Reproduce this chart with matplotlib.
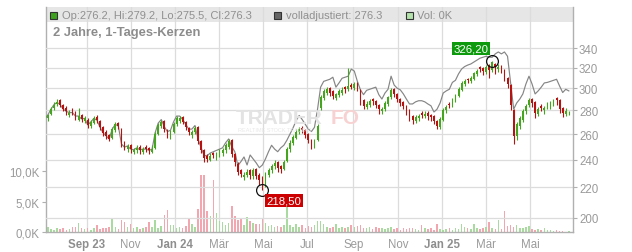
import numpy as np
import pandas as pd
import matplotlib
matplotlib.use("Agg")
import matplotlib.pyplot as plt
from matplotlib.patches import Rectangle

plt.rcParams['font.family'] = ['Liberation Sans', 'DejaVu Sans']

# ---------------- data (3-trading-day candles) ----------------
first_date = '2023-07-06'
last_date = '2025-06-26'

closes = [272.5, 276, 281, 285, 287, 285, 281, 279, 278, 278,
          275, 275, 272.5, 273, 267.5, 270, 273, 271.5, 265.5, 261,
          258.5, 256, 264, 268, 266.5, 252, 249.5, 250.5, 248, 247.5,
          249, 247.5, 248, 248, 247, 248, 260, 267.5, 270, 264,
          259.5, 261, 268, 273, 273, 270, 265.5, 261.5, 261.5, 265,
          254, 247, 241, 240.5, 243, 243.5, 244.3, 246, 247, 251,
          254, 244, 238, 231, 229.5, 229, 231, 229, 232, 228,
          225, 221, 230, 232.5, 235, 237.5, 234, 233, 238.5, 248,
          253, 257.5, 262, 264, 263, 259.5, 255, 251, 254.5, 266.5,
          292, 297.5, 299, 296, 293, 294.5, 297.5, 298.5, 299, 302,
          301, 304, 299, 288, 283.5, 285.6, 288, 288, 285, 281,
          281, 286.5, 291.5, 298.5, 294.7, 290, 286.5, 284, 279.5, 274,
          271.5, 274, 275, 276, 277, 275, 274, 271, 267, 272.5,
          280, 283, 284.5, 289, 293.5, 299, 305, 306.5, 307.5, 309.5,
          314.5, 316.5, 318.5, 316.5, 321, 317.5, 325.5, 321, 321, 318.5,
          309.5, 304, 284.5, 258, 268, 273, 279, 284, 289, 286.5,
          278, 281, 282, 282, 284, 285.6, 288, 289, 281, 278,
          279.5, 276.3]

opens = [270, 273, 277, 282, 286, 289, 285, 282, 276, 280,
         278, 272, 276, 271, 272, 267, 269, 274, 271, 266,
         262, 259, 257, 263, 269, 264, 253, 248, 251, 246,
         247, 250, 246, 250, 249, 246, 249, 260, 267, 271,
         263, 258, 262, 268, 271, 274, 270, 265, 259, 262,
         266, 254, 247, 243, 240, 245, 242, 244, 245, 247,
         250, 255, 244, 237, 232, 227, 229, 232, 228, 233,
         229, 227, 222, 229, 232, 235, 238, 235, 233, 239,
         248, 253, 257, 262, 265, 263, 260, 255, 250, 255,
         282, 291, 296, 300, 297, 291, 294, 296, 301, 299,
         303, 300, 305, 298, 289, 283, 285, 290, 288, 285,
         279, 281, 286, 292, 299, 295, 290, 287, 284, 280,
         275, 271, 273, 278, 275, 278, 276, 275, 271, 266,
         272, 280, 286, 284, 289, 293, 298, 304, 309, 307,
         309, 314, 321, 320, 316, 323, 318, 324, 319, 322,
         318, 310, 303, 280, 258, 267, 272, 279, 285, 290,
         287, 277, 284, 280, 283, 283, 286, 291, 289, 282,
         277, 276.2]

highs = [274, 277, 283, 287, 290, 290, 286, 284, 280, 282,
         279, 282, 277, 275, 273, 272, 275, 276, 272, 267,
         263, 260, 266, 270, 270, 265, 254, 252, 252, 249,
         251, 251, 250, 251, 250, 251, 262, 269, 272, 272,
         264, 263, 270, 275, 275, 275, 271, 266, 263, 267,
         267, 255, 248, 244, 245, 246, 246, 248, 249, 253,
         256, 256, 245, 238, 233, 231, 233, 233, 234, 234,
         230, 228, 231, 234, 237, 240, 239, 236, 240, 250,
         255, 259, 264, 266, 267, 264, 261, 256, 256, 268,
         294, 299, 301, 301, 298, 296, 299, 301, 302, 320,
         305, 306, 306, 299, 290, 288, 290, 291, 289, 286,
         283, 288, 293, 300, 300, 296, 291, 288, 285, 281,
         276, 276, 277, 279, 279, 279, 277, 276, 272, 274,
         282, 285, 287, 291, 295, 301, 307, 309, 310, 312,
         316, 319, 322, 321, 323, 324, 326.2, 325, 324, 323,
         319, 311, 304, 281, 270, 275, 281, 286, 291, 291,
         288, 283, 286, 284, 287, 288, 290, 292, 290, 283,
         282, 279.2]

lows = [268, 271, 276, 280, 284, 283, 279, 276, 274, 276,
        272, 271, 270, 269, 265, 265, 268, 269, 263, 258,
        256, 254, 256, 262, 264, 250, 247, 246, 245, 244,
        245, 244, 244, 246, 244, 245, 248, 259, 265, 262,
        257, 256, 261, 267, 269, 268, 263, 259, 257, 260,
        252, 245, 238, 238, 239, 241, 240, 242, 243, 245,
        248, 242, 235, 229, 227, 225, 227, 226, 226, 226,
        222, 218.5, 220, 227, 230, 233, 231, 230, 232, 238,
        246, 251, 256, 260, 261, 257, 253, 248, 249, 254,
        280, 289, 294, 293, 290, 289, 292, 294, 296, 297,
        299, 298, 297, 285, 281, 281, 283, 285, 282, 277,
        277, 279, 284, 290, 292, 287, 284, 281, 276, 271,
        268, 269, 271, 273, 273, 272, 271, 268, 264, 264,
        271, 278, 282, 283, 287, 292, 297, 302, 305, 305,
        308, 312, 316, 313, 314, 310, 316, 314, 316, 315,
        307, 300, 280, 252, 255, 264, 270, 277, 283, 283,
        273, 275, 279, 277, 281, 281, 284, 285, 278, 274,
        275, 275.5]

adjusted = [272.5, 276, 281, 285, 287, 285, 281, 279, 278, 278, 275, 275, 272.5, 273,
            267.5, 270, 273, 271.5, 265.5, 261, 258.5, 256, 264, 268, 266.5, 252,
            249.5, 250.5, 248, 247.5, 249, 247.5, 248, 248, 247, 248,
            261, 269, 272, 266, 262, 263, 270, 275, 275, 272, 268, 264, 264, 267, 256,
            249, 243, 243, 245, 246, 247, 248, 249, 253, 256, 250, 246,
            235.5, 238.5, 242, 236, 243.5, 240.5, 237.5, 234, 236, 240.5,
            246, 251, 248, 246, 249, 251, 255, 260, 265, 271,
            275.5, 272, 268, 264, 262, 265.5, 281, 301, 306.5, 307.5,
            308.5, 310.5, 301, 305, 309.5, 310.5, 311.5, 318.5, 316.5, 306.5,
            298.5, 294, 298, 299, 300, 301, 294, 290, 295.5, 299,
            311.5, 303, 300, 298.5, 294.7, 290, 285.6, 285.6, 287.5, 288.5,
            288.5, 287.5, 285.6, 284, 278.5, 281, 286.5, 295.5, 297.5, 299,
            305.5, 307.5, 313.7, 318.5, 321, 322.5, 323.6, 325.5, 327.5, 329.5,
            330.5, 331.5, 330.5, 330.5, 334, 336, 334, 336, 331.5, 305,
            281, 286.5, 290, 294.7, 304, 311.5, 304, 294.7, 297.5, 301,
            305, 305.5, 306.5, 307.5, 308.5, 302, 296, 299, 297.5]

volumes_k = [0.6, 0.9, 0.5, 0.4, 0.7, 0.5, 0.6, 0.4, 0.5, 0.8,
             0.9, 1.5, 0.6, 0.5, 0.7, 0.4, 0.6, 1.1, 0.5, 0.7,
             0.6, 0.9, 2.1, 0.8, 0.5, 2.0, 1.6, 0.9, 1.3, 0.6,
             0.8, 0.5, 0.7, 0.9, 1.7, 0.8, 1.9, 0.6, 1.0, 2.8,
             3.6, 1.2, 1.2, 0.7, 0.9, 0.6, 1.0, 2.2, 1.4, 0.9,
             3.8, 9.4, 9.4, 3.5, 2.7, 8.6, 3.1, 1.8, 1.6, 1.2,
             1.5, 4.3, 2.7, 2.0, 2.2, 1.2, 2.5, 1.8, 1.5, 1.3,
             1.4, 2.3, 1.5, 1.0, 1.2, 0.9, 1.0, 0.8, 1.1, 5.0,
             1.2, 0.9, 1.4, 0.8, 1.1, 0.7, 1.0, 0.8, 1.2, 1.8,
             1.8, 1.3, 0.9, 0.7, 0.8, 1.3, 0.6, 0.9, 0.7, 0.8,
             1.2, 0.8, 1.0, 1.1, 0.7, 0.6, 0.9, 0.5, 0.8, 0.6,
             0.7, 0.5, 0.6, 0.8, 0.5, 0.6, 0.4, 0.7, 0.5, 0.6,
             0.6, 0.5, 0.4, 1.2, 0.6, 0.5, 0.7, 0.4, 1.3, 0.5,
             0.4, 0.5, 0.6, 0.4, 0.7, 0.5, 1.3, 0.9, 0.6, 0.5,
             1.3, 0.7, 0.5, 0.6, 0.8, 1.7, 0.6, 0.5, 2.0, 0.5,
             3.4, 1.0, 1.1, 0.9, 1.2, 0.7, 0.6, 0.8, 1.0, 0.5,
             0.4, 0.5, 0.3, 0.7, 0.4, 0.3, 0.2, 0.3, 0.1, 0.2, 0.0, 0.1]

tick_months = ['2023-09', '2023-11', '2024-01', '2024-03', '2024-05', '2024-07',
               '2024-09', '2024-11', '2025-01', '2025-03', '2025-05']
tick_labels = ['Sep 23', 'Nov', 'Jan 24', 'Mär', 'Mai', 'Jul',
               'Sep', 'Nov', 'Jan 25', 'Mär', 'Mai']
bold_labels = ['Sep 23', 'Jan 24', 'Jan 25']

price_ticks = [200, 220, 240, 260, 280, 300, 320, 340]
vol_ticks = [0, 5, 10]
vol_tick_labels = ['0,0K', '5,0K', '10,0K']

high_point = ('2025-03-11', 326.20, '326,20')
low_point = ('2024-04-30', 218.50, '218,50')

legend_ohlc = 'Op:276.2, Hi:279.2, Lo:275.5, Cl:276.3'
legend_adj = 'volladjustiert: 276.3'
legend_vol = 'Vol: 0K'
subtitle = '2 Jahre, 1-Tages-Kerzen'

# ---------------- styling ----------------
C_UP = '#45a51f'
C_DN = '#b51212'
C_VUP = '#a9dba0'
C_VDN = '#f2a6b0'
C_GRID = '#dcdcdc'
C_TXT = '#9a9a9a'

W, H = 632, 253
fig = plt.figure(figsize=(W / 100, H / 100), dpi=100)
L, R, T, B = 45.7, 572.7, 8.0, 233.0
ax = fig.add_axes([L / W, 1 - B / H, (R - L) / W, (B - T) / H])
ax2 = ax.twinx()

start = np.datetime64(first_date)


def to_x(d):
    return np.busday_count(start, np.array(d, dtype='datetime64[D]'))


dates = pd.bdate_range(first_date, last_date, freq='3B')
n = min(len(dates), len(closes))
x = to_x(dates.values.astype('datetime64[D]'))[:n]
o = np.array(opens[:n], float)
c = np.array(closes[:n], float)
up = c >= o
cols = np.where(up, C_UP, C_DN)

# volume (left axis)
ax.bar(x, volumes_k[:n], width=1.5, color=np.where(up, C_VUP, C_VDN), linewidth=0, zorder=2)
ax.set_ylim(0, 37.07)
ax.set_yticks(vol_ticks)
ax.set_yticklabels(vol_tick_labels)

# x axis
tick_x = [int(to_x(np.busday_offset(m + '-01', 0, roll='forward'))) for m in tick_months]
ax.set_xticks(tick_x)
ax.set_xticklabels(tick_labels)
ax.set_xlim(0.86, 516.8)
ax.grid(axis='x', color=C_GRID, lw=0.9)
ax.set_axisbelow(True)

# legend bar background
ax.add_patch(Rectangle((0, (B - 22.7) / (B - T)), 1, 1 - (B - 22.7) / (B - T),
                       transform=ax.transAxes, facecolor='#e6e6e6', edgecolor='none', zorder=0.1))

# price (right axis, log)
ax2.set_yscale('log')
ax2.set_ylim(191.4, 386.7)
ax2.plot(x, adjusted[:n], color='#858585', lw=0.85, zorder=2)
ax2.vlines(x, lows[:n], highs[:n], colors=cols, lw=0.8, zorder=3)
ax2.bar(x, np.abs(c - o), bottom=np.minimum(o, c), width=1.7,
        color=cols, linewidth=0, zorder=3)
ax2.set_yticks(price_ticks)
ax2.set_yticklabels([str(p) for p in price_ticks])
ax2.yaxis.set_minor_locator(matplotlib.ticker.NullLocator())
ax2.grid(axis='y', color=C_GRID, lw=0.9)
ax2.set_axisbelow(True)

# extremes
for (d, v, txt), fc, off in [(high_point, '#0d9a0d', (-15.5, 9.5)),
                             (low_point, '#cc0000', (15.5, -8.0))]:
    xv = int(to_x(d))
    ax2.plot([xv], [v], marker='o', ms=8.5, mfc='none', mec='#111111', mew=0.9, zorder=5)
    ax2.annotate(txt, xy=(xv, v), xytext=off, textcoords='offset points',
                 ha='center', va='center', color='white', fontsize=8.2, zorder=6,
                 bbox=dict(boxstyle='square,pad=0.12', fc=fc, ec='none'))

# spines / ticks
for a in (ax, ax2):
    for s in a.spines.values():
        s.set_visible(False)
ax.spines['left'].set_visible(True)
ax.spines['bottom'].set_visible(True)
ax2.spines['right'].set_visible(True)
for s in (ax.spines['left'], ax.spines['bottom'], ax2.spines['right']):
    s.set_color('#b0b0b0')
    s.set_linewidth(1.0)
ax.tick_params(axis='x', length=0, pad=4, labelsize=8.3, colors=C_TXT)
ax.tick_params(axis='y', length=3, width=0.8, color='#b0b0b0', pad=1.5, labelsize=8.3, labelcolor=C_TXT)
ax2.tick_params(axis='y', length=3, width=0.8, color='#b0b0b0', pad=1.5, labelsize=8.3, labelcolor=C_TXT)
for lab in ax.get_xticklabels():
    if lab.get_text() in bold_labels:
        lab.set_fontweight('bold')
        lab.set_color('#8e8e8e')


def fx(px):
    return px / W


def fy(py):
    return 1 - py / H


# watermark
fig.text(fx(236), fy(119), 'TRADER', fontsize=15, fontweight='bold', color='#e3e3e3',
         ha='left', va='center', zorder=0)
fig.text(fx(331), fy(119), 'FO', fontsize=15, fontweight='bold', color='#f8d2d2',
         ha='left', va='center', zorder=0)
fig.text(fx(238), fy(130), 'REALTIME STOCK TRADING', fontsize=4, color='#e8e8e8',
         ha='left', va='center', zorder=0)

# legend row
for sx, col, txt in [(50, '#3ea21e', legend_ohlc), (274, '#666666', legend_adj), (405.7, '#b3e2ab', legend_vol)]:
    fig.patches.append(Rectangle((fx(sx), fy(19.7)), 7 / W, 7 / H, transform=fig.transFigure,
                                 facecolor=col, edgecolor='#333333', lw=0.8, figure=fig))
    fig.text(fx(sx + 11.5), fy(15.6), txt, fontsize=8, color='#909090', ha='left', va='center')

fig.text(fx(53), fy(33), subtitle, fontsize=9.3, fontweight='bold', color='#8c8c8c',
         ha='left', va='center')

fig.savefig('out.png', dpi=100)
